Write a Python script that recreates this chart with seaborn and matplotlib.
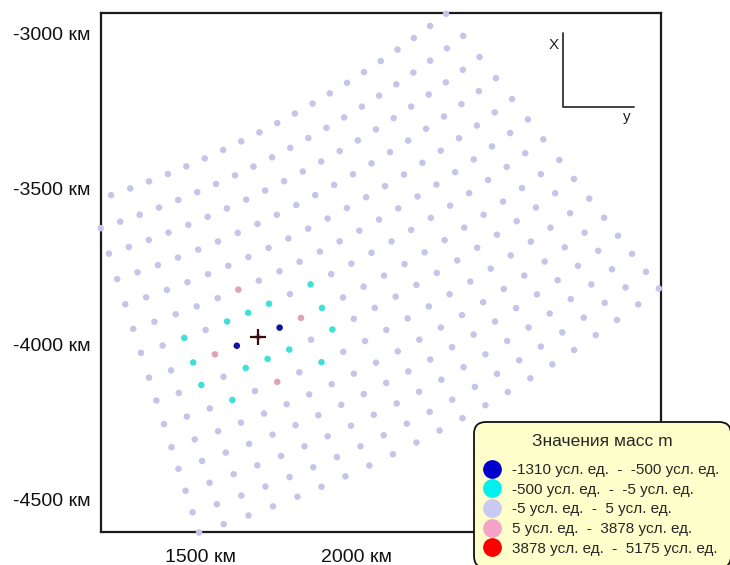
import numpy as np
import pandas as pd
import matplotlib
matplotlib.use("Agg")
import matplotlib.pyplot as plt
from matplotlib.lines import Line2D
from matplotlib.ticker import FixedLocator, FuncFormatter
import seaborn as sns

# ---------------- data ----------------
# polar observation grid: centre (km), radius of every ring (km),
# bearing of every ray (degrees measured clockwise from the +Y(east) axis)
grid_center_km = (-2.4, 14.1)
ring_radius_km = [3737, 3827, 3913, 3999, 4084, 4167, 4248, 4332,
                  4409, 4489, 4567, 4640, 4714, 4787, 4855]
ray_bearing_deg = [52.17, 53.16, 54.16, 55.15, 56.15, 57.14, 58.13, 59.13,
                   60.12, 61.12, 62.11, 63.10, 64.10, 65.09, 66.09, 67.08,
                   68.07, 69.07, 70.06, 71.06, 72.05]
rays_per_ring = [20, 21, 21, 21, 21, 21, 21, 21, 21, 21, 21, 21, 21, 21, 21]

# mass classes (legend order)
class_labels = ["-1310 усл. ед.  -  -500 усл. ед.",
                "-500 усл. ед.  -  -5 усл. ед.",
                "-5 усл. ед.  -  5 усл. ед.",
                "5 усл. ед.  -  3878 усл. ед.",
                "3878 усл. ед.  -  5175 усл. ед."]
default_class = 2
# nodes (ring, ray) that are not in the default class
class0_ring = [7, 7]
class0_ray = [14, 16]
class1_ring = [6, 6, 6, 6, 6, 7, 7, 8, 8, 8, 8, 8, 9, 9]
class1_ray = [12, 14, 15, 16, 18, 12, 18, 12, 14, 15, 16, 18, 13, 17]
class3_ring = [5, 7, 7, 9]
class3_ray = [15, 13, 17, 15]
source_ring, source_ray = 7, 15

y_ticks = [-3000, -3500, -4000, -4500]
x_ticks = [1500, 2000]
legend_title = "Значения масс m"

# ---------------- build table ----------------
overrides = {}
for rr, jj in zip(class0_ring, class0_ray):
    overrides[(rr, jj)] = 0
for rr, jj in zip(class1_ring, class1_ray):
    overrides[(rr, jj)] = 1
for rr, jj in zip(class3_ring, class3_ray):
    overrides[(rr, jj)] = 3

cx, cy = grid_center_km
rows = []
for i, (rad, n) in enumerate(zip(ring_radius_km, rays_per_ring)):
    for j in range(n):
        th = np.deg2rad(ray_bearing_deg[j])
        rows.append(dict(x=cx + rad * np.cos(th), y=cy - rad * np.sin(th),
                         cls=overrides.get((i, j), default_class),
                         ring=i, ray=j))
df = pd.DataFrame(rows)
df["order"] = (df["cls"] != default_class).astype(int)
df = df.sort_values("order", kind="stable")
df["label"] = df["cls"].map(lambda k: class_labels[k])

plot_colors = ["#12129e", "#3fe0d9", "#c5c5ea", "#dea3b8", "#ff0000"]
legend_colors = ["#0000cc", "#00efef", "#c9c9f1", "#f5a3c9", "#ff0000"]

# ---------------- figure ----------------
sns.set_style("white")
plt.rcParams["font.family"] = ["Liberation Sans", "DejaVu Sans"]

fig = plt.figure(figsize=(7.3, 5.65), dpi=100)
ax = fig.add_axes([101 / 730, 1 - 532 / 565, 560 / 730, 519 / 565])

sns.scatterplot(data=df, x="x", y="y", hue="label",
                hue_order=class_labels,
                palette=dict(zip(class_labels, plot_colors)),
                s=22, linewidth=0, legend=False, ax=ax, clip_on=False,
                zorder=3)

src = df[(df["ring"] == source_ring) & (df["ray"] == source_ray)].iloc[0]
ax.plot([src["x"]], [src["y"]], marker="+", markersize=12, mew=1.6,
        color="#3a0b0b", linestyle="none", zorder=4, clip_on=False)

ax.set_xlim(1178, 2982)
ax.set_ylim(-4603, -2935)
ax.set_xlabel("")
ax.set_ylabel("")

ax.xaxis.set_major_locator(FixedLocator(x_ticks))
ax.yaxis.set_major_locator(FixedLocator(y_ticks))
fmt = FuncFormatter(lambda v, p: f"{int(round(v))} км")
ax.xaxis.set_major_formatter(fmt)
ax.yaxis.set_major_formatter(fmt)
ax.tick_params(axis="both", direction="out", length=6, width=1.4,
               colors="#111111", labelsize=14)
ax.tick_params(axis="y", pad=1.5)
ax.tick_params(axis="x", pad=6)
for sp in ax.spines.values():
    sp.set_visible(True)
    sp.set_linewidth(1.6)
    sp.set_color("#1a1a1a")

# X / y orientation sign
ax.plot([0.825, 0.825, 0.951], [0.962, 0.8195, 0.8195], color="#333333",
        lw=1.3, transform=ax.transAxes, zorder=5)
ax.text(0.809, 0.938, "X", transform=ax.transAxes, ha="center", va="center",
        fontsize=11, color="#222222")
ax.text(0.939, 0.800, "y", transform=ax.transAxes, ha="center", va="center",
        fontsize=11, color="#222222")

# legend
handles = [Line2D([0], [0], marker="o", linestyle="none", markersize=12.5,
                  markerfacecolor=c, markeredgecolor=c) for c in legend_colors]
leg = fig.legend(handles, class_labels, title=legend_title + "\n",
                 loc="upper left", bbox_to_anchor=(474 / 730, 1 - 422 / 565),
                 borderaxespad=0, frameon=True, fancybox=True,
                 facecolor="#ffffcc", edgecolor="#111111", framealpha=1,
                 borderpad=0.8, handlelength=0.76, handletextpad=0.92,
                 labelspacing=0.37, fontsize=11, title_fontsize=12.5)
leg.get_title().set_linespacing(0.42)
leg.get_frame().set_linewidth(1.3)
leg.legendPatch.set_boxstyle("round", pad=0, rounding_size=0.8)

fig.savefig("out.png", dpi=100)
